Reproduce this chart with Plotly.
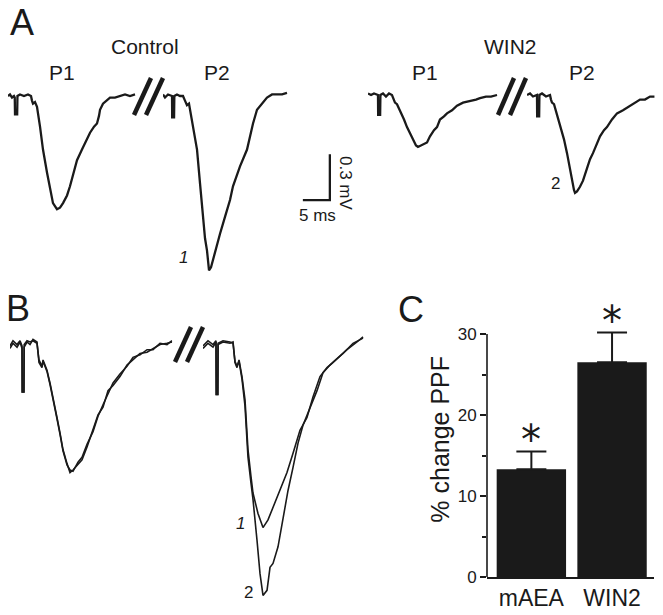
import plotly.graph_objects as go

W, H = 663, 615
FONT = "Liberation Sans, Arial, sans-serif"
INK = "#1a1a1a"

# ---------------------------------------------------------------------------
# Data: field potentials, (time ms, amplitude mV)
# ---------------------------------------------------------------------------

CTRL_P1 = [
    (0.00, 0.00), (0.37, 0.01), (0.74, -0.01), (1.11, 0.00), (1.25, -0.01),
    (1.30, -0.12), (1.70, -0.12), (1.75, 0.00), (2.22, 0.01), (2.96, 0.00),
    (3.70, 0.01), (4.26, 0.00), (4.44, -0.03), (4.63, -0.05), (5.00, -0.04),
    (5.37, -0.07), (5.93, -0.20), (6.48, -0.35), (7.22, -0.50), (7.78, -0.61),
    (8.33, -0.70), (9.07, -0.74), (9.63, -0.73), (10.19, -0.70), (10.93, -0.65),
    (11.48, -0.59), (12.22, -0.50), (12.78, -0.42), (13.70, -0.35), (14.44, -0.29),
    (15.19, -0.24), (15.93, -0.20), (16.48, -0.18), (16.85, -0.13), (17.04, -0.09),
    (17.59, -0.05), (18.33, -0.03), (18.89, -0.01), (19.81, -0.01), (20.74, 0.00),
    (21.67, 0.01), (22.59, 0.00), (23.52, 0.01),
]
CTRL_P2 = [
    (0.00, 0.01), (0.37, -0.01), (0.93, 0.01), (1.48, 0.00), (1.67, 0.00),
    (1.70, -0.14), (2.05, -0.14), (2.10, 0.00), (2.59, 0.01), (3.15, 0.00),
    (3.70, 0.00), (4.07, -0.03), (4.44, -0.06), (4.81, -0.05), (5.37, -0.16),
    (5.93, -0.27), (6.30, -0.35), (6.85, -0.57), (7.41, -0.79), (7.78, -0.93),
    (8.15, -1.01), (8.52, -1.14), (8.89, -1.12), (9.26, -1.07), (10.00, -0.97),
    (10.56, -0.90), (11.48, -0.79), (12.41, -0.68), (12.96, -0.59), (14.26, -0.46),
    (15.56, -0.35), (16.67, -0.18), (17.41, -0.09), (18.33, -0.05), (19.26, -0.01),
    (20.19, 0.01), (21.11, 0.01), (22.04, 0.01), (22.96, 0.02),
]
WIN_P1 = [
    (0.00, 0.01), (0.56, 0.00), (1.11, 0.01), (1.67, 0.00), (1.85, 0.00),
    (1.88, -0.13), (2.25, -0.13), (2.30, 0.00), (2.78, 0.01), (3.33, -0.01),
    (3.89, 0.01), (4.44, 0.00), (4.81, -0.03), (5.00, -0.05), (5.37, -0.06),
    (5.93, -0.10), (6.67, -0.16), (7.22, -0.21), (7.78, -0.25), (8.33, -0.29),
    (8.89, -0.33), (9.26, -0.34), (9.81, -0.33), (10.37, -0.32), (10.93, -0.31),
    (11.48, -0.27), (12.22, -0.23), (12.78, -0.21), (13.33, -0.16), (14.07, -0.14),
    (14.63, -0.12), (15.56, -0.10), (16.48, -0.07), (17.59, -0.05), (18.89, -0.04),
    (20.00, -0.03), (20.74, -0.02), (21.85, -0.01), (22.78, -0.01), (23.89, 0.00),
]
WIN_P2 = [
    (0.00, 0.00), (0.56, 0.01), (1.11, -0.01), (1.67, 0.00), (1.85, 0.00),
    (1.88, -0.14), (2.25, -0.14), (2.30, 0.00), (2.78, 0.01), (3.52, -0.01),
    (4.26, 0.00), (4.44, -0.03), (4.63, -0.05), (5.00, -0.06), (5.56, -0.13),
    (6.11, -0.21), (6.85, -0.29), (7.41, -0.38), (7.96, -0.49), (8.33, -0.56),
    (8.70, -0.62), (8.89, -0.64), (9.26, -0.63), (9.81, -0.60), (10.37, -0.56),
    (11.11, -0.48), (11.67, -0.42), (12.22, -0.38), (12.96, -0.31), (13.52, -0.27),
    (14.26, -0.23), (14.81, -0.21), (15.74, -0.16), (16.67, -0.12), (17.78, -0.10),
    (19.07, -0.07), (20.00, -0.05), (20.93, -0.03), (21.85, -0.03), (22.78, -0.01),
    (23.60, -0.01),
]

# Panel B: the same sweeps scaled to the P1 amplitude (P1 peak = -1)
B_P1_CTRL = [
    (0.00, -0.05), (0.46, -0.01), (1.08, -0.04), (1.54, 0.00), (1.85, -0.05),
    (1.88, -0.39), (2.14, -0.39), (2.18, -0.04), (2.62, 0.00), (3.08, -0.02),
    (3.54, 0.02), (4.15, 0.00), (4.46, -0.16), (4.92, -0.20), (5.08, -0.14),
    (5.69, -0.22), (6.15, -0.32), (6.62, -0.45), (7.23, -0.59), (7.69, -0.71),
    (8.15, -0.84), (8.77, -0.95), (9.23, -1.02), (9.69, -1.00), (10.46, -0.96),
    (11.08, -0.92), (11.85, -0.82), (12.77, -0.69), (13.54, -0.57), (14.31, -0.51),
    (15.08, -0.38), (15.85, -0.34), (16.92, -0.27), (18.00, -0.18), (18.92, -0.14),
    (20.00, -0.09), (21.08, -0.08), (22.00, -0.05), (23.08, -0.02), (24.15, -0.01),
    (24.92, 0.00),
]
B_P1_WIN = [
    (0.00, -0.03), (0.46, 0.01), (1.08, -0.02), (1.54, 0.01), (1.85, -0.03),
    (1.88, -0.39), (2.14, -0.39), (2.18, -0.02), (2.62, 0.01), (3.08, 0.00),
    (3.54, 0.01), (4.15, -0.01), (4.46, -0.14), (4.92, -0.19), (5.08, -0.15),
    (5.69, -0.23), (6.15, -0.33), (6.62, -0.46), (7.23, -0.60), (7.69, -0.72),
    (8.15, -0.85), (8.77, -0.96), (9.23, -1.00), (9.69, -1.01), (10.46, -0.94),
    (11.08, -0.90), (11.85, -0.80), (12.77, -0.70), (13.54, -0.58), (14.31, -0.49),
    (15.08, -0.40), (15.85, -0.32), (16.92, -0.25), (18.00, -0.19), (18.92, -0.12),
    (20.00, -0.10), (21.08, -0.06), (22.00, -0.06), (23.08, -0.01), (24.15, -0.02),
    (24.92, 0.01),
]
B_P2_CTRL = [
    (0.00, -0.05), (0.77, -0.01), (1.54, -0.04), (2.00, 0.00), (2.04, -0.41),
    (2.28, -0.41), (2.32, -0.02), (3.08, 0.00), (4.15, -0.01), (4.62, 0.00),
    (4.92, -0.16), (5.23, -0.20), (5.54, -0.14), (6.00, -0.27), (6.46, -0.45),
    (6.92, -0.84), (7.38, -1.05), (7.69, -1.18), (8.46, -1.34), (9.23, -1.45),
    (10.00, -1.39), (10.77, -1.29), (11.85, -1.16), (12.92, -1.02), (13.85, -0.87),
    (14.92, -0.69), (16.00, -0.59), (16.92, -0.43), (18.00, -0.27), (19.08, -0.20),
    (20.00, -0.16), (21.54, -0.09), (23.08, -0.01), (24.62, 0.03),
]
B_P2_WIN = [
    (0.00, -0.03), (0.77, 0.01), (1.54, -0.02), (2.00, 0.01), (2.04, -0.41),
    (2.28, -0.41), (2.32, -0.01), (3.08, 0.01), (4.15, 0.00), (4.62, -0.01),
    (4.92, -0.15), (5.23, -0.19), (5.54, -0.15), (6.00, -0.29), (6.46, -0.50),
    (6.92, -0.90), (7.38, -1.10), (7.69, -1.23), (8.31, -1.55), (8.77, -1.81),
    (9.23, -1.98), (9.85, -1.94), (10.31, -1.76), (10.77, -1.73), (11.54, -1.60),
    (12.31, -1.37), (13.08, -1.16), (13.85, -0.98), (14.62, -0.79), (15.38, -0.65),
    (16.46, -0.51), (17.54, -0.38), (18.46, -0.24), (19.54, -0.18), (20.62, -0.13),
    (22.15, -0.06), (23.69, 0.00), (24.62, 0.04),
]

SCALE_MS, SCALE_MV = 5, 0.3

GROUPS = ["mAEA", "WIN2"]
PPF_CHANGE = [13.3, 26.5]
PPF_SEM = [2.2, 3.7]


def fx(px):
    return min(max(px / W, 0), 1)


def fy(py):
    return min(max(1 - py / H, 0), 1)


fig = go.Figure()
_n = [1]  # axis counter; 1 is the bar chart


def add_axes(left, baseline, ms_span, lo, hi, px_ms, px_unit):
    """Hidden axis pair placed in pixels, scaled in ms / mV."""
    _n[0] += 1
    n = _n[0]
    top = baseline - hi * px_unit
    bottom = baseline - lo * px_unit
    right = left + ms_span * px_ms
    fig.update_layout(**{
        f"xaxis{n}": dict(domain=[fx(left), fx(right)], range=[0, ms_span],
                          visible=False, anchor=f"y{n}"),
        f"yaxis{n}": dict(domain=[fy(bottom), fy(top)], range=[lo, hi],
                          visible=False, anchor=f"x{n}"),
    })
    return f"x{n}", f"y{n}"


def sweep(points, ax, width=2.3):
    xa, ya = ax
    fig.add_trace(go.Scatter(
        x=[p[0] for p in points], y=[p[1] for p in points],
        mode="lines", line=dict(color=INK, width=width),
        xaxis=xa, yaxis=ya, showlegend=False, hoverinfo="skip",
    ))


def label(text, px, py, size, angle=0):
    fig.add_annotation(text=text, x=fx(px), y=fy(py), xref="paper", yref="paper",
                       xanchor="center", yanchor="middle", showarrow=False,
                       textangle=angle,
                       font=dict(family=FONT, size=size, color=INK))


def slashes(x0, y0, x1, y1, gap):
    for dx in (0, gap):
        fig.add_shape(type="line", xref="paper", yref="paper",
                      x0=fx(x0 + dx), y0=fy(y0), x1=fx(x1 + dx), y1=fy(y1),
                      line=dict(color=INK, width=4.5))


# ---------------------------------------------------------------------------
# Panel A — single sweeps, control vs WIN2
# ---------------------------------------------------------------------------
A_MS, A_MV = 5.4, 153
sweep(CTRL_P1, add_axes(8, 96, 24.5, -1.35, 0.35, A_MS, A_MV))
ax_c2 = add_axes(163, 96, 35, -1.35, 0.35, A_MS, A_MV)
sweep(CTRL_P2, ax_c2)
sweep(WIN_P1, add_axes(368, 95, 24.5, -1.35, 0.35, A_MS, A_MV))
sweep(WIN_P2, add_axes(527, 95, 24.5, -1.35, 0.35, A_MS, A_MV))

# scale bar (drawn in the control-P2 axes, so it uses the same ms / mV scale)
sb_t, sb_v = 25.9, -0.68
fig.add_trace(go.Scatter(
    x=[sb_t, sb_t + SCALE_MS, sb_t + SCALE_MS], y=[sb_v, sb_v, sb_v + SCALE_MV],
    mode="lines", line=dict(color=INK, width=2.3),
    xaxis=ax_c2[0], yaxis=ax_c2[1], showlegend=False, hoverinfo="skip",
))

# ---------------------------------------------------------------------------
# Panel B — normalised overlay
# ---------------------------------------------------------------------------
B_MS, B_U = 6.5, 128
ax_b1 = add_axes(10, 342, 25, -2.05, 0.35, B_MS, B_U)
ax_b2 = add_axes(203, 342, 25, -2.05, 0.35, B_MS, B_U)
sweep(B_P1_CTRL, ax_b1, 1.6)
sweep(B_P1_WIN, ax_b1, 1.6)
sweep(B_P2_CTRL, ax_b2, 1.6)
sweep(B_P2_WIN, ax_b2, 1.6)

# ---------------------------------------------------------------------------
# Panel C — bar chart
# ---------------------------------------------------------------------------
C_PX = 243 / 30  # px per % on the reference
C_TOP = 34       # headroom for the asterisks
fig.add_trace(go.Bar(
    x=GROUPS, y=PPF_CHANGE, width=0.86,
    marker=dict(color=INK, line=dict(width=0)),
    error_y=dict(type="data", array=PPF_SEM, arrayminus=[0, 0], symmetric=False,
                 color=INK, thickness=2, width=15),
    showlegend=False, hoverinfo="skip",
))
for g, m, s in zip(GROUPS, PPF_CHANGE, PPF_SEM):
    fig.add_annotation(x=g, y=m + s, xref="x", yref="y", text="*", showarrow=False,
                       xanchor="center", yanchor="middle", yshift=11,
                       font=dict(family="DejaVu Sans", size=40, color=INK))

# y axis line only spans 0-30, like the original
fig.add_shape(type="line", xref="x domain", yref="y", x0=0, x1=0, y0=0, y1=30,
              line=dict(color=INK, width=1.6), layer="above")

fig.update_layout(
    xaxis=dict(domain=[fx(487), fx(654)], range=[-0.55, 1.52], showline=True,
               linecolor=INK, linewidth=1.6, ticks="", showgrid=False, automargin=False,
               tickfont=dict(family=FONT, size=23, color=INK), anchor="y"),
    yaxis=dict(domain=[fy(577), fy(577 - C_TOP * C_PX)], range=[0, C_TOP], showline=False,
               ticks="outside", ticklen=6, tickwidth=1.6, tickvals=[0, 10, 20, 30],
               tickcolor=INK, showgrid=False, zeroline=False, automargin=False,
               minor=dict(tickvals=[5, 15, 25], ticks="outside", ticklen=4,
                          tickwidth=1.6, tickcolor=INK),
               tickfont=dict(family=FONT, size=17, color=INK),
               title=dict(text="% change PPF", standoff=0,
                          font=dict(family=FONT, size=25, color=INK)),
               anchor="x"),
)

# ---------------------------------------------------------------------------
# Labels and break marks
# ---------------------------------------------------------------------------
label("A", 22, 23, 36)
label("B", 18, 308, 36)
label("C", 411, 309, 36)
label("Control", 145, 47, 21)
label("WIN2", 510, 47, 21)
label("P1", 62, 72, 21)
label("P2", 217, 72, 21)
label("P1", 425, 72, 21)
label("P2", 582, 72, 21)
label("<i>1</i>", 183, 257, 17)
label("2", 555, 183, 17)
label("5 ms", 317, 215, 17)
label("0.3 mV", 346, 183, 17, angle=90)
label("<i>1</i>", 240, 523, 17)
label("2", 248, 592, 17)

slashes(134, 115, 151, 78, 12)
slashes(498, 115, 514, 78, 12)
slashes(175, 362, 191, 327, 12)

fig.update_layout(
    width=W, height=H,
    margin=dict(l=0, r=0, t=0, b=0, pad=0, autoexpand=False),
    paper_bgcolor="white", plot_bgcolor="rgba(0,0,0,0)",
    font=dict(family=FONT, color=INK),
    showlegend=False,
)

# drop the browser's default 8 px body margin so the figure fills the window
fig.write_html("out.html", config={"displayModeBar": False},
               post_script="document.body.style.margin = '0';")
